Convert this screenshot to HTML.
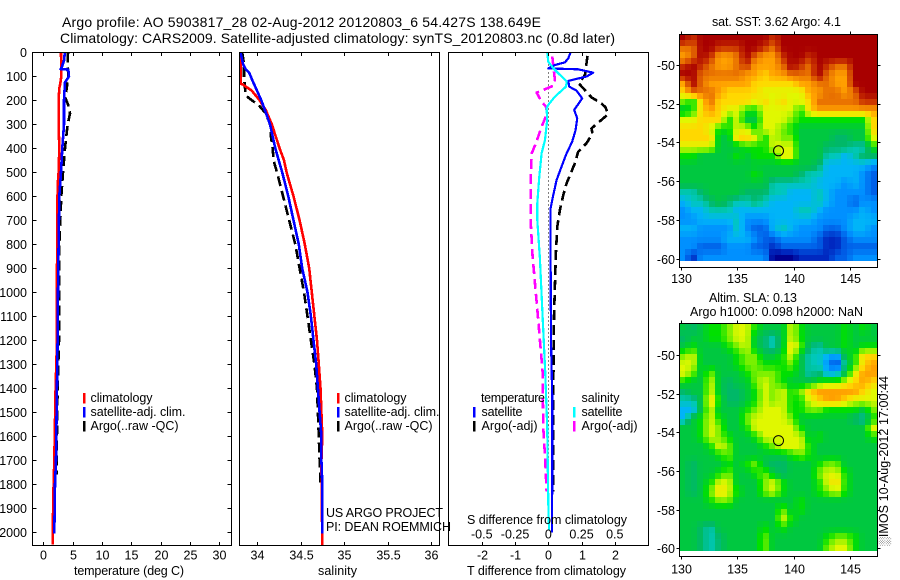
<!DOCTYPE html>
<html lang="en">
<head>
<meta charset="utf-8">
<title>Argo profile 5903817_28</title>
<style>
html,body{margin:0;padding:0;background:#fff;width:900px;height:580px;overflow:hidden}
svg{display:block;font-family:"Liberation Sans",sans-serif;fill:#000}
text{font-size:12.5px}
rect,line,polyline,circle{shape-rendering:crispEdges}
.frame{fill:none;stroke:#000;stroke-width:1}
</style>
</head>
<body>
<svg id="chart" width="900" height="580" viewBox="0 0 900 580" xmlns="http://www.w3.org/2000/svg">
  <text x="62" y="27" textLength="479" lengthAdjust="spacing" style="font-size:14px">Argo profile: AO 5903817_28 02-Aug-2012 20120803_6 54.427S 138.649E</text>
  <text x="60" y="43" textLength="555" lengthAdjust="spacing" style="font-size:14px">Climatology: CARS2009. Satellite-adjusted climatology: synTS_20120803.nc (0.8d later)</text>

  <g id="maps"></g>
  <g id="marks"></g>
  <g id="axes"></g>

  <rect class="frame" x="32.5" y="52.5" width="199" height="493"/>
  <rect class="frame" x="239.5" y="52.5" width="200" height="493"/>
  <rect class="frame" x="448.5" y="52.5" width="200" height="493"/>
  <rect class="frame" x="679.5" y="34.5" width="198" height="233"/>
  <rect class="frame" x="679.5" y="323.5" width="198" height="233"/>

  <text x="74" y="575" textLength="110" lengthAdjust="spacing">temperature (deg C)</text>
  <text x="318" y="575" textLength="39" lengthAdjust="spacing">salinity</text>
  <text x="467" y="575" textLength="159" lengthAdjust="spacing">T difference from climatology</text>
  <text x="467" y="524" textLength="160" lengthAdjust="spacing">S difference from climatology</text>

  <g>
    <rect x="83" y="393" width="2.4" height="10.5" fill="#f00"/>
    <rect x="83" y="407" width="2.4" height="10.5" fill="#00f"/>
    <rect x="83" y="421" width="2.4" height="10.5" fill="#000"/>
    <text x="90.5" y="402" textLength="62" lengthAdjust="spacing">climatology</text>
    <text x="90.5" y="416" textLength="95" lengthAdjust="spacing">satellite-adj. clim.</text>
    <text x="90.5" y="430" textLength="88" lengthAdjust="spacing">Argo(..raw -QC)</text>
  </g>
  <g>
    <rect x="337" y="393" width="2.4" height="10.5" fill="#f00"/>
    <rect x="337" y="407" width="2.4" height="10.5" fill="#00f"/>
    <rect x="337" y="421" width="2.4" height="10.5" fill="#000"/>
    <text x="344.5" y="402" textLength="62" lengthAdjust="spacing">climatology</text>
    <text x="344.5" y="416" textLength="95" lengthAdjust="spacing">satellite-adj. clim.</text>
    <text x="344.5" y="430" textLength="88" lengthAdjust="spacing">Argo(..raw -QC)</text>
  </g>
  <g>
    <text x="481" y="402" textLength="64" lengthAdjust="spacing">temperature</text>
    <text x="581.5" y="402" textLength="38" lengthAdjust="spacing">salinity</text>
    <rect x="473" y="407" width="2.4" height="10.5" fill="#00f"/>
    <rect x="473" y="421" width="2.4" height="10.5" fill="#000"/>
    <rect x="573" y="407" width="2.4" height="10.5" fill="#0ff"/>
    <rect x="573" y="421" width="2.4" height="10.5" fill="#f0f"/>
    <text x="481.5" y="416" textLength="41" lengthAdjust="spacing">satellite</text>
    <text x="481.5" y="430" textLength="56" lengthAdjust="spacing">Argo(-adj)</text>
    <text x="581.5" y="416" textLength="41" lengthAdjust="spacing">satellite</text>
    <text x="581.5" y="430" textLength="56" lengthAdjust="spacing">Argo(-adj)</text>
  </g>

  <text x="326" y="517" textLength="117" lengthAdjust="spacing">US ARGO PROJECT</text>
  <text x="326" y="531" textLength="125" lengthAdjust="spacing">PI: DEAN ROEMMICH</text>

  <text x="712" y="26" textLength="129" lengthAdjust="spacing">sat. SST: 3.62 Argo: 4.1</text>
  <text x="709" y="302" textLength="88" lengthAdjust="spacing">Altim. SLA: 0.13</text>
  <text x="690" y="316" textLength="173" lengthAdjust="spacing">Argo h1000: 0.098 h2000: NaN</text>
  <text transform="translate(888,546) rotate(-90)" textLength="170" lengthAdjust="spacing">░IMOS 10-Aug-2012 17:00:44</text>
</svg>

<script>
/* ---------- profile data ---------- */
const climDepth = [0,100,130,150,200,300,400,500,560,800,1030,1200,1400,1700,1850,2050];
const climTemp  = [3.01,3.07,2.9,2.73,2.61,2.61,2.73,2.61,2.44,2.39,2.27,2.33,2.1,1.88,1.7,1.59];
const satDepth  = [0,30,60,70,72,100,125,200,300,400,500,600,800,1000,1200,1500,1700,1800,2005];
const satTemp   = [3.64,3.58,3.18,2.95,4.26,4.38,3.69,3.52,3.52,3.24,3.01,2.73,2.61,2.5,2.44,2.27,2.16,1.99,1.88];
const argoDepth = [0,50,100,150,190,220,255,300,350,400,500,600,700,800,1000,1200,1400,1700,1760];
const argoTemp  = [4.2,4.15,4.26,3.98,3.75,4.26,4.55,4.15,3.92,3.69,3.35,3.07,2.9,2.73,2.67,2.67,2.44,2.27,2.27];

const climSalDepth = [0,130,135,160,200,240,300,400,450,500,600,700,800,900,1000,1100,1200,1300,1400,1500,1600,1700,2055];
const climSal      = [33.81,33.81,33.84,33.94,34.03,34.1,34.17,34.26,34.31,34.34,34.42,34.49,34.55,34.6,34.63,34.66,34.69,34.71,34.73,34.74,34.75,34.74,34.75];
const satSalDepth  = [0,50,70,85,120,160,200,250,300,400,500,600,700,800,900,1000,1100,1200,1300,1400,1500,1600,1700,1800,2005];
const satSal       = [33.81,33.84,33.87,33.91,33.95,34,34.05,34.1,34.15,34.21,34.29,34.36,34.42,34.48,34.52,34.58,34.62,34.65,34.68,34.7,34.72,34.74,34.74,34.75,34.75];
const argoSalDepth = [0,50,100,140,180,200,220,250,280,300,350,400,450,500,600,700,800,900,1000,1100,1200,1300,1400,1500,1600,1700,1800];
const argoSal      = [33.83,33.85,33.85,33.86,33.87,33.94,34.02,34.09,34.13,34.15,34.16,34.18,34.19,34.23,34.3,34.37,34.44,34.49,34.54,34.58,34.62,34.66,34.69,34.7,34.71,34.72,34.73];

const dTSatDepth  = [0,25,42,53,67,71,85,101,119,143,160,192,240,275,324,372,428,476,532,594,650,865,1200,1450,1700,2000];
const dTSat       = [0.67,0.6,0.5,0.2,0,0.9,1.35,1.15,0.6,0.63,0.85,1.02,0.78,0.87,0.82,0.72,0.53,0.4,0.25,0.15,0.07,0.07,0.08,0.12,0.12,0.11];
const dTArgoDepth = [15,95,130,188,213,229,258,317,338,379,414,462,546,594,657,726,837,1100,1400,1830];
const dTArgo      = [1.18,1.1,0.92,1.3,1.6,1.72,1.8,1.3,1.33,1.15,0.9,0.8,0.55,0.45,0.35,0.27,0.23,0.17,0.15,0.15];
const dSSatDepth  = [0,39,67,81,101,122,143,185,219,233,282,365,421,518,629,699,858,1100,1331,1560,1879,1990];
const dSSat       = [-0.008,0,0.038,0.063,0.1,0.138,0.133,0.05,0,-0.013,-0.008,-0.025,-0.05,-0.068,-0.083,-0.083,-0.063,-0.043,-0.023,-0.008,0,0.005];
const dSArgoDepth = [18,115,139,160,168,206,226,254,310,379,421,532,699,851,1100,1331,1560,1697,1830];
const dSArgo      = [0.03,0.05,0.038,-0.05,-0.088,-0.05,-0.018,-0.008,-0.05,-0.093,-0.125,-0.133,-0.133,-0.118,-0.078,-0.043,-0.038,-0.023,-0.013];

/* ---------- tick labels ---------- */
const depthTicks = [0,100,200,300,400,500,600,700,800,900,1000,1100,1200,1300,1400,1500,1600,1700,1800,1900,2000];
const tempTicks  = [0,5,10,15,20,25,30];
const salTicks   = ['34','34.5','35','35.5','36'];
const dTTicks    = [-2,-1,0,1,2];
const dSTicks    = ['-0.5','-0.25','0','0.25','0.5'];
const lonTicks   = [130,135,140,145];
const latTicks   = [-50,-52,-54,-56,-58,-60];

/* ---------- map data: colour-level index per cell, north to south ---------- */
const argoLon = 138.649;
const argoLat = -54.427;
const sstCells = [
[15,14,15,15,15,15,15,15,15,15,14,15,15,15,15,15,15,15,15,15,15,15],
[13,13,15,15,14,14,14,15,15,14,13,15,15,15,15,15,15,15,15,15,15,15],
[12,13,15,14,12,12,13,15,13,12,12,14,15,15,14,15,15,15,15,15,15,15],
[14,15,14,13,12,12,13,14,12,12,12,13,15,14,13,15,14,13,13,15,15,15],
[15,15,13,13,13,13,13,12,12,11,12,12,13,13,13,15,13,12,12,15,15,15],
[12,15,13,12,12,12,12,12,11,11,11,11,11,12,12,13,13,12,12,15,15,15],
[11,13,13,13,12,11,11,11,11,10,10,10,10,10,12,12,13,13,12,13,15,15],
[9,8,11,13,11,11,11,11,10,11,10,11,10,10,11,13,13,13,13,13,14,14],
[7,8,11,12,11,10,10,8,8,10,10,10,10,8,11,12,12,12,12,12,12,12],
[10,10,11,11,11,8,10,7,7,10,10,10,9,8,8,8,8,8,8,8,8,11],
[11,11,11,10,8,8,10,10,8,10,10,9,8,7,7,7,7,7,7,7,7,11],
[11,11,11,11,7,7,11,11,10,8,10,9,9,7,7,7,7,6,6,7,7,10],
[10,10,10,10,7,7,7,8,8,8,10,10,10,7,7,7,6,6,6,5,5,8],
[8,8,7,7,7,7,8,7,8,8,8,10,10,7,7,7,5,5,4,5,6,6],
[7,7,7,7,7,7,7,7,7,7,7,7,7,7,7,6,4,4,4,4,4,3],
[7,7,7,7,7,7,7,7,8,7,7,7,7,6,5,5,4,4,4,4,3,2],
[7,7,7,7,7,7,7,7,7,7,5,5,5,5,5,4,4,4,3,4,3,2],
[5,5,6,7,7,7,7,6,6,6,5,5,4,4,4,5,4,3,3,3,3,2],
[4,5,5,6,7,6,5,5,6,5,4,4,4,4,4,5,4,3,3,2,3,3],
[3,4,4,5,5,5,4,4,4,4,4,4,4,5,5,4,3,3,3,3,4,3],
[3,3,4,4,4,4,5,3,3,3,4,4,4,4,4,3,3,3,3,4,4,4],
[4,4,3,3,3,3,5,3,2,2,4,5,4,3,3,3,2,2,3,4,4,3],
[3,3,3,3,3,4,4,4,3,2,2,3,3,3,3,2,1,1,2,3,3,3],
[3,3,2,2,2,3,3,3,2,2,1,2,2,2,2,2,1,1,2,2,2,2],
[3,1,3,3,3,3,3,3,3,3,0,0,0,1,1,1,1,2,2,3,3,3]
];
const slaCells = [
[7,6,7,8,8,9,10,10,8,7,7,7,10,8,7,7,7,7,8,7,8,7],
[6,7,7,8,8,9,10,10,7,6,5,7,10,8,7,7,7,7,8,7,7,7],
[7,8,7,7,7,8,9,10,7,6,5,7,11,9,6,5,7,7,8,7,8,8],
[9,10,7,7,7,7,8,9,9,7,7,8,10,7,5,5,4,3,7,8,11,11],
[10,10,7,7,7,7,8,9,9,8,8,8,9,7,5,5,3,1,6,8,11,12],
[10,9,7,9,7,7,7,8,9,9,9,8,8,7,5,6,4,4,7,10,12,12],
[8,7,7,10,7,6,7,7,9,10,9,8,7,7,7,8,9,9,10,11,12,11],
[6,7,7,10,7,6,6,7,8,10,9,10,8,9,11,12,12,12,12,12,11,10],
[5,5,7,11,8,6,6,7,8,10,9,10,8,8,10,11,12,12,11,10,10,10],
[4,4,7,10,7,7,7,8,9,10,10,10,8,8,9,9,8,8,8,8,7,9],
[4,7,8,10,8,7,7,9,10,10,10,10,9,7,7,7,7,7,7,6,5,8],
[7,7,8,10,9,7,7,8,10,10,10,10,10,8,7,7,7,7,7,7,7,10],
[7,7,8,10,9,8,7,7,8,10,10,10,10,10,7,8,7,7,7,7,7,8],
[7,7,7,8,10,9,7,7,7,8,9,10,10,10,8,7,7,7,7,7,7,7],
[7,7,7,7,8,9,7,7,7,7,7,7,8,9,8,7,7,7,7,7,7,7],
[7,6,7,7,7,8,7,8,9,7,6,6,7,7,7,8,9,9,7,7,7,7],
[7,6,7,7,8,9,7,7,8,9,7,6,7,7,7,9,10,10,8,7,7,7],
[7,6,7,8,10,10,7,7,7,9,10,8,7,7,7,8,10,11,8,7,7,7],
[7,6,7,9,11,10,8,7,7,9,10,8,7,7,7,8,9,10,8,7,7,7],
[7,7,7,8,9,9,7,7,7,7,7,7,7,8,7,7,7,7,7,7,7,7],
[7,7,7,7,7,7,7,7,7,7,7,9,7,8,7,7,7,7,7,7,7,7],
[7,7,7,7,7,7,7,7,7,7,7,10,8,7,7,7,7,7,7,7,7,7],
[7,7,6,5,7,7,7,7,7,8,7,8,7,7,7,7,7,7,7,7,7,7],
[7,7,6,5,6,7,7,7,7,9,7,7,7,7,7,7,8,9,9,8,7,7],
[7,7,6,5,6,7,7,7,7,9,7,7,7,7,7,7,9,10,10,8,7,7]
];
const palette = [[0,0,144],[0,40,192],[0,96,232],[0,144,255],[0,180,248],[0,200,184],[0,184,104],[0,200,64],[0,224,0],[120,240,0],[224,248,0],[255,216,0],[255,160,0],[232,112,0],[200,48,0],[168,0,0]];

/* ---------- axis functions ---------- */
const SVGNS = 'http://www.w3.org/2000/svg';
const yDepth = d => 52.3 + d * 0.24;
const xTemp  = t => 43.3 + t * 5.87;
const xSal   = s => 257 + (s - 34) * 87;
const xDT    = t => 548.3 + t * 33.25;
const xDS    = s => 548.3 + s * 133;
const xLon   = lon => 681 + (lon - 130) * 11.27;
const ySst   = lat => 65 + (-50 - lat) * 19.37;
const ySla   = lat => 355 + (-50 - lat) * 19.33;

const marks = document.getElementById('marks');
const axes  = document.getElementById('axes');
const maps  = document.getElementById('maps');

function drawLine(name, depths, values, xFn, color, width, dash) {
  const el = document.createElementNS(SVGNS, 'polyline');
  
  
  el.setAttribute('points', values.map((v, i) => xFn(v).toFixed(1) + ',' + yDepth(depths[i]).toFixed(1)).join(' '));
  el.setAttribute('fill', 'none');
  el.setAttribute('stroke', color);
  el.setAttribute('stroke-width', width);
  el.setAttribute('stroke-linejoin', 'round');
  if (dash) el.setAttribute('stroke-dasharray', dash);
  marks.appendChild(el);
}

function tick(x1, y1, x2, y2) {
  const el = document.createElementNS(SVGNS, 'line');
  
  
  el.setAttribute('x1', x1);
  el.setAttribute('y1', y1);
  el.setAttribute('x2', x2);
  el.setAttribute('y2', y2);
  el.setAttribute('stroke', '#000');
  el.setAttribute('stroke-width', '1');
  axes.appendChild(el);
}

function label(str, x, y, anchor) {
  const el = document.createElementNS(SVGNS, 'text');
  
  
  el.setAttribute('x', x);
  el.setAttribute('y', y);
  el.setAttribute('text-anchor', anchor);
  el.textContent = str;
  axes.appendChild(el);
}

/* colour scale: fractional level blended between palette stops */
function levelColor(level) {
  const v = Math.max(0, Math.min(palette.length - 1, level));
  const i = Math.min(palette.length - 2, Math.floor(v));
  const f = v - i;
  const rgb = palette[i].map((p, k) => Math.round(p + (palette[i + 1][k] - p) * f));
  return 'rgb(' + rgb.join(',') + ')';
}

/* shading: read a grid value at fractional row/col, like interpolated image shading */
function shade(cells, r, c) {
  const rMax = cells.length - 1, cMax = cells[0].length - 1;
  const rr = Math.max(0, Math.min(rMax, r)), cc = Math.max(0, Math.min(cMax, c));
  const r0 = Math.floor(rr), c0 = Math.floor(cc);
  const r1 = Math.min(rMax, r0 + 1), c1 = Math.min(cMax, c0 + 1);
  const fr = rr - r0, fc = cc - c0;
  return (cells[r0][c0] * (1 - fc) + cells[r0][c1] * fc) * (1 - fr) +
         (cells[r1][c0] * (1 - fc) + cells[r1][c1] * fc) * fr;
}

function drawMap(name, cells, yFn) {
  const lon0 = 129.85, lonSpan = 17.556, lat0 = -48.38, latSpan = 11.74;
  const blocksX = 33, blocksY = 38;
  for (let j = 0; j < blocksY; j++) {
    for (let i = 0; i < blocksX; i++) {
      const x0 = xLon(lon0 + i * lonSpan / blocksX), x1 = xLon(lon0 + (i + 1) * lonSpan / blocksX);
      const y0 = yFn(lat0 - j * latSpan / blocksY), y1 = yFn(lat0 - (j + 1) * latSpan / blocksY);
      const level = shade(cells, (j + 0.5) / blocksY * cells.length - 0.5, (i + 0.5) / blocksX * cells[0].length - 0.5);
      const el = document.createElementNS(SVGNS, 'rect');
      
      
      el.setAttribute('x', Math.round(x0));
      el.setAttribute('y', Math.round(y0));
      el.setAttribute('width', Math.round(x1) - Math.round(x0));
      el.setAttribute('height', Math.round(y1) - Math.round(y0));
      el.setAttribute('fill', levelColor(level));
      maps.appendChild(el);
    }
  }
}

function drawMarker(yFn) {
  const el = document.createElementNS(SVGNS, 'circle');
  
  
  el.setAttribute('cx', xLon(argoLon).toFixed(1));
  el.setAttribute('cy', yFn(argoLat).toFixed(1));
  el.setAttribute('r', '5');
  el.setAttribute('fill', 'none');
  el.setAttribute('stroke', '#000');
  el.setAttribute('stroke-width', '1');
  el.style.shapeRendering = 'auto';
  axes.appendChild(el);
}

/* ---------- maps ---------- */
drawMap('sst-map-cell', sstCells, ySst);
drawMap('sla-map-cell', slaCells, ySla);
drawMarker(ySst);
drawMarker(ySla);

/* ---------- profile lines ---------- */
drawLine('argo-temperature-line', argoDepth, argoTemp, xTemp, '#000', 2.6, '10 5');
drawLine('climatology-temperature-line', climDepth, climTemp, xTemp, '#f00', 2.6);
drawLine('satellite-temperature-line', satDepth, satTemp, xTemp, '#00f', 2.6);

drawLine('argo-salinity-line', argoSalDepth, argoSal, xSal, '#000', 2.6, '10 5');
drawLine('climatology-salinity-line', climSalDepth, climSal, xSal, '#f00', 2.6);
drawLine('satellite-salinity-line', satSalDepth, satSal, xSal, '#00f', 2.6);

const zeroLine = document.createElementNS(SVGNS, 'line');


zeroLine.setAttribute('x1', xDT(0));
zeroLine.setAttribute('x2', xDT(0));
zeroLine.setAttribute('y1', yDepth(0));
zeroLine.setAttribute('y2', yDepth(2000));
zeroLine.setAttribute('stroke', '#000');
zeroLine.setAttribute('stroke-width', '1');
zeroLine.setAttribute('stroke-dasharray', '1 3');
marks.appendChild(zeroLine);

drawLine('argo-t-difference-line', dTArgoDepth, dTArgo, xDT, '#000', 2.6, '10 5');
drawLine('argo-s-difference-line', dSArgoDepth, dSArgo, xDS, '#f0f', 2.6, '10 5');
drawLine('satellite-t-difference-line', dTSatDepth, dTSat, xDT, '#00f', 2.2);
drawLine('satellite-s-difference-line', dSSatDepth, dSSat, xDS, '#0ff', 2.2);

/* ---------- profile axes ---------- */
depthTicks.forEach(d => {
  const y = Math.round(yDepth(d)) + 0.5;
  tick(32.5, y, 36.5, y);
  tick(231.5, y, 227.5, y);
  label(String(d), 27, y + 4.5, 'end');
});
tempTicks.forEach(t => {
  const x = Math.round(xTemp(t)) + 0.5;
  tick(x, 52.5, x, 56);
  tick(x, 545.5, x, 542);
  label(String(t), x, 559.5, 'middle');
});
salTicks.forEach(s => {
  const x = Math.round(xSal(parseFloat(s))) + 0.5;
  tick(x, 52.5, x, 56);
  tick(x, 545.5, x, 542);
  label(s, x, 559.5, 'middle');
});
dTTicks.forEach(t => {
  const x = Math.round(xDT(t)) + 0.5;
  tick(x, 52.5, x, 56);
  tick(x, 545.5, x, 542);
  label(String(t), x, 559.5, 'middle');
});
dSTicks.forEach(s => {
  label(s, xDS(parseFloat(s)), 538.5, 'middle');
});

/* ---------- map axes ---------- */
lonTicks.forEach(lon => {
  const x = Math.round(xLon(lon)) + 0.5;
  tick(x, 34.5, x, 31.5);
  tick(x, 267.5, x, 270.5);
  tick(x, 323.5, x, 320.5);
  tick(x, 556.5, x, 559.5);
  label(String(lon), x, 283, 'middle');
  label(String(lon), x, 573.5, 'middle');
});
latTicks.forEach(lat => {
  const y1 = Math.round(ySst(lat)) + 0.5, y2 = Math.round(ySla(lat)) + 0.5;
  tick(679.5, y1, 676.5, y1);
  tick(877.5, y1, 880.5, y1);
  tick(679.5, y2, 676.5, y2);
  tick(877.5, y2, 880.5, y2);
  label(String(lat), 675, y1 + 4.5, 'end');
  label(String(lat), 675, y2 + 4.5, 'end');
});
</script>
</body>
</html>
